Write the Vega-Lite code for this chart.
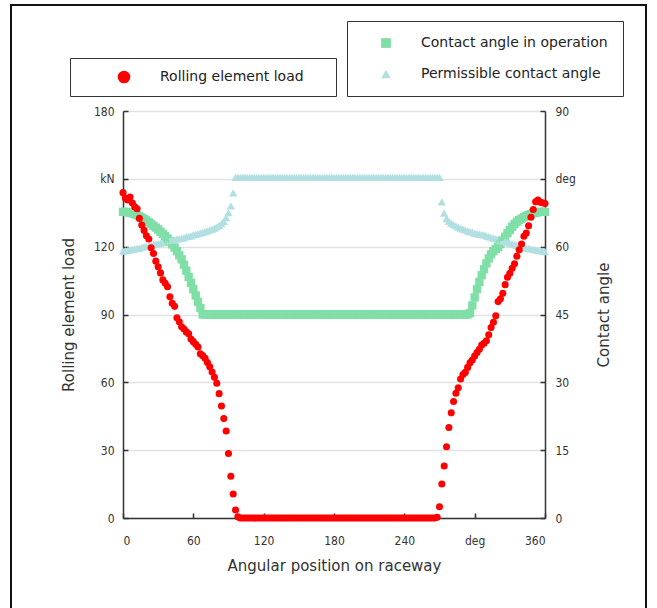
{
"$schema":"https://vega.github.io/schema/vega-lite/v6.json",
"width":635,"height":610,
"autosize":{"type":"none"},
"padding":{"left":11,"top":5,"right":11,"bottom":-7},
"config":{
 "view":{"stroke":"#111","strokeWidth":2},
 "font":"DejaVu Sans",
 "axis":{"labelFont":"DejaVu Sans Condensed, DejaVu Sans","labelFontSize":12,"labelColor":"#333","titleFont":"DejaVu Sans","titleFontSize":15,"titleColor":"#333","titleFontWeight":"normal","domainColor":"#333","domainWidth":1.5,"tickColor":"#333","tickWidth":1.5,"tickSize":-5},
 "legend":{"labelFont":"DejaVu Sans","labelFontSize":14,"labelColor":"#222","labelLimit":400}
},
"data":{"values":[
{"a":0,"L":143.9,"op":67.7,"perm":59.0},{"a":2,"L":141.5,"op":67.7,"perm":59.1},{"a":4,"L":140.6,"op":67.6,"perm":59.2},{"a":6,"L":142.0,"op":67.5,"perm":59.3},{"a":8,"L":139.3,"op":67.4,"perm":59.4},{"a":10,"L":137.6,"op":67.2,"perm":59.5},{"a":12,"L":136.8,"op":67.0,"perm":59.6},{"a":14,"L":132.5,"op":66.7,"perm":59.7},{"a":16,"L":129.6,"op":66.4,"perm":59.9},{"a":18,"L":127.2,"op":66.1,"perm":60.0},
{"a":20,"L":124.8,"op":65.8,"perm":60.1},{"a":22,"L":123.4,"op":65.4,"perm":60.2},{"a":24,"L":119.5,"op":65.0,"perm":60.3},{"a":26,"L":117.0,"op":64.6,"perm":60.5},{"a":28,"L":113.6,"op":64.2,"perm":60.6},{"a":30,"L":111.1,"op":63.8,"perm":60.7},{"a":32,"L":108.4,"op":63.3,"perm":60.8},{"a":34,"L":105.3,"op":62.8,"perm":60.9},{"a":36,"L":103.8,"op":62.3,"perm":61.0},{"a":38,"L":102.3,"op":61.8,"perm":61.2},
{"a":40,"L":97.8,"op":61.2,"perm":61.3},{"a":42,"L":95.0,"op":60.5,"perm":61.4},{"a":44,"L":93.6,"op":59.8,"perm":61.5},{"a":46,"L":88.6,"op":59.0,"perm":61.7},{"a":48,"L":86.8,"op":58.1,"perm":61.8},{"a":50,"L":84.6,"op":57.2,"perm":61.9},{"a":52,"L":83.6,"op":56.0,"perm":62.0},{"a":54,"L":82.3,"op":54.7,"perm":62.2},{"a":56,"L":81.5,"op":53.3,"perm":62.3},{"a":58,"L":79.2,"op":52.0,"perm":62.4},
{"a":60,"L":78.0,"op":50.6,"perm":62.6},{"a":62,"L":76.8,"op":49.2,"perm":62.7},{"a":64,"L":75.6,"op":47.8,"perm":62.9},{"a":66,"L":72.6,"op":46.4,"perm":63.0},{"a":68,"L":71.8,"op":45.0,"perm":63.2},{"a":70,"L":70.6,"op":45,"perm":63.3},{"a":72,"L":68.8,"op":45,"perm":63.5},{"a":74,"L":66.9,"op":45,"perm":63.7},{"a":76,"L":64.6,"op":45,"perm":63.9},{"a":78,"L":62.2,"op":45,"perm":64.1},
{"a":80,"L":59.6,"op":45,"perm":64.4},{"a":82,"L":55.0,"op":45,"perm":64.7},{"a":84,"L":49.5,"op":45,"perm":65.1},{"a":86,"L":44.0,"op":45,"perm":65.6},{"a":88,"L":38.5,"op":45,"perm":66.4},{"a":90,"L":28.5,"op":45,"perm":67.5},{"a":92,"L":18.5,"op":45,"perm":69.0},{"a":94,"L":10.6,"op":45,"perm":71.9},{"a":96,"L":3.5,"op":45,"perm":75.3},{"a":98,"L":0.5,"op":45,"perm":75.3},
{"a":100,"L":0,"op":45,"perm":75.3},{"a":102,"L":0,"op":45,"perm":75.3},{"a":104,"L":0,"op":45,"perm":75.3},{"a":106,"L":0,"op":45,"perm":75.3},{"a":108,"L":0,"op":45,"perm":75.3},{"a":110,"L":0,"op":45,"perm":75.3},{"a":112,"L":0,"op":45,"perm":75.3},{"a":114,"L":0,"op":45,"perm":75.3},{"a":116,"L":0,"op":45,"perm":75.3},{"a":118,"L":0,"op":45,"perm":75.3},
{"a":120,"L":0,"op":45,"perm":75.3},{"a":122,"L":0,"op":45,"perm":75.3},{"a":124,"L":0,"op":45,"perm":75.3},{"a":126,"L":0,"op":45,"perm":75.3},{"a":128,"L":0,"op":45,"perm":75.3},{"a":130,"L":0,"op":45,"perm":75.3},{"a":132,"L":0,"op":45,"perm":75.3},{"a":134,"L":0,"op":45,"perm":75.3},{"a":136,"L":0,"op":45,"perm":75.3},{"a":138,"L":0,"op":45,"perm":75.3},
{"a":140,"L":0,"op":45,"perm":75.3},{"a":142,"L":0,"op":45,"perm":75.3},{"a":144,"L":0,"op":45,"perm":75.3},{"a":146,"L":0,"op":45,"perm":75.3},{"a":148,"L":0,"op":45,"perm":75.3},{"a":150,"L":0,"op":45,"perm":75.3},{"a":152,"L":0,"op":45,"perm":75.3},{"a":154,"L":0,"op":45,"perm":75.3},{"a":156,"L":0,"op":45,"perm":75.3},{"a":158,"L":0,"op":45,"perm":75.3},
{"a":160,"L":0,"op":45,"perm":75.3},{"a":162,"L":0,"op":45,"perm":75.3},{"a":164,"L":0,"op":45,"perm":75.3},{"a":166,"L":0,"op":45,"perm":75.3},{"a":168,"L":0,"op":45,"perm":75.3},{"a":170,"L":0,"op":45,"perm":75.3},{"a":172,"L":0,"op":45,"perm":75.3},{"a":174,"L":0,"op":45,"perm":75.3},{"a":176,"L":0,"op":45,"perm":75.3},{"a":178,"L":0,"op":45,"perm":75.3},
{"a":180,"L":0,"op":45,"perm":75.3},{"a":182,"L":0,"op":45,"perm":75.3},{"a":184,"L":0,"op":45,"perm":75.3},{"a":186,"L":0,"op":45,"perm":75.3},{"a":188,"L":0,"op":45,"perm":75.3},{"a":190,"L":0,"op":45,"perm":75.3},{"a":192,"L":0,"op":45,"perm":75.3},{"a":194,"L":0,"op":45,"perm":75.3},{"a":196,"L":0,"op":45,"perm":75.3},{"a":198,"L":0,"op":45,"perm":75.3},
{"a":200,"L":0,"op":45,"perm":75.3},{"a":202,"L":0,"op":45,"perm":75.3},{"a":204,"L":0,"op":45,"perm":75.3},{"a":206,"L":0,"op":45,"perm":75.3},{"a":208,"L":0,"op":45,"perm":75.3},{"a":210,"L":0,"op":45,"perm":75.3},{"a":212,"L":0,"op":45,"perm":75.3},{"a":214,"L":0,"op":45,"perm":75.3},{"a":216,"L":0,"op":45,"perm":75.3},{"a":218,"L":0,"op":45,"perm":75.3},
{"a":220,"L":0,"op":45,"perm":75.3},{"a":222,"L":0,"op":45,"perm":75.3},{"a":224,"L":0,"op":45,"perm":75.3},{"a":226,"L":0,"op":45,"perm":75.3},{"a":228,"L":0,"op":45,"perm":75.3},{"a":230,"L":0,"op":45,"perm":75.3},{"a":232,"L":0,"op":45,"perm":75.3},{"a":234,"L":0,"op":45,"perm":75.3},{"a":236,"L":0,"op":45,"perm":75.3},{"a":238,"L":0,"op":45,"perm":75.3},
{"a":240,"L":0,"op":45,"perm":75.3},{"a":242,"L":0,"op":45,"perm":75.3},{"a":244,"L":0,"op":45,"perm":75.3},{"a":246,"L":0,"op":45,"perm":75.3},{"a":248,"L":0,"op":45,"perm":75.3},{"a":250,"L":0,"op":45,"perm":75.3},{"a":252,"L":0,"op":45,"perm":75.3},{"a":254,"L":0,"op":45,"perm":75.3},{"a":256,"L":0,"op":45,"perm":75.3},{"a":258,"L":0,"op":45,"perm":75.3},
{"a":260,"L":0,"op":45,"perm":75.3},{"a":262,"L":0,"op":45,"perm":75.3},{"a":264,"L":0,"op":45,"perm":75.3},{"a":266,"L":0,"op":45,"perm":75.3},{"a":268,"L":0.3,"op":45,"perm":75.3},{"a":270,"L":5.0,"op":45,"perm":75.3},{"a":272,"L":15.0,"op":45,"perm":69.9},{"a":274,"L":23.0,"op":45,"perm":67.4},{"a":276,"L":31.5,"op":45,"perm":66.2},{"a":278,"L":40.0,"op":45,"perm":65.6},
{"a":280,"L":46.5,"op":45,"perm":65.2},{"a":282,"L":51.5,"op":45,"perm":64.9},{"a":284,"L":55.2,"op":45,"perm":64.6},{"a":286,"L":57.6,"op":45,"perm":64.3},{"a":288,"L":61.5,"op":45,"perm":64.1},{"a":290,"L":63.5,"op":45,"perm":63.9},{"a":292,"L":64.4,"op":45,"perm":63.7},{"a":294,"L":66.6,"op":45,"perm":63.5},{"a":296,"L":68.7,"op":45.3,"perm":63.3},{"a":298,"L":69.9,"op":47.0,"perm":63.2},
{"a":300,"L":71.6,"op":48.8,"perm":63.0},{"a":302,"L":73.2,"op":50.6,"perm":62.9},{"a":304,"L":74.6,"op":52.2,"perm":62.8},{"a":306,"L":76.5,"op":53.7,"perm":62.7},{"a":308,"L":77.3,"op":55.0,"perm":62.6},{"a":310,"L":78.4,"op":56.3,"perm":62.4},{"a":312,"L":81.0,"op":57.4,"perm":62.3},{"a":314,"L":84.2,"op":58.3,"perm":62.1},{"a":316,"L":86.6,"op":59.0,"perm":61.9},{"a":318,"L":89.4,"op":59.5,"perm":61.8},
{"a":320,"L":95.7,"op":59.9,"perm":61.6},{"a":322,"L":97.0,"op":60.6,"perm":61.4},{"a":324,"L":99.4,"op":61.4,"perm":61.3},{"a":326,"L":103.2,"op":62.2,"perm":61.1},{"a":328,"L":106.5,"op":63.0,"perm":61.0},{"a":330,"L":108.2,"op":63.7,"perm":60.8},{"a":332,"L":110.4,"op":64.4,"perm":60.6},{"a":334,"L":112.4,"op":65.0,"perm":60.5},{"a":336,"L":115.8,"op":65.5,"perm":60.3},{"a":338,"L":118.6,"op":65.9,"perm":60.1},
{"a":340,"L":121.2,"op":66.2,"perm":60.0},{"a":342,"L":124.6,"op":66.5,"perm":59.8},{"a":344,"L":126.0,"op":66.8,"perm":59.7},{"a":346,"L":129.2,"op":67.0,"perm":59.6},{"a":348,"L":133.0,"op":67.2,"perm":59.5},{"a":350,"L":136.4,"op":67.4,"perm":59.4},{"a":352,"L":139.9,"op":67.5,"perm":59.3},{"a":354,"L":140.6,"op":67.6,"perm":59.2},{"a":356,"L":139.6,"op":67.7,"perm":59.1},{"a":358,"L":139.4,"op":67.7,"perm":59.0},
{"a":360,"L":139.1,"op":67.7,"perm":58.9}
]},
"layer":[
 {
  "transform":[{"fold":["op","perm"],"as":["s","v"]}],
  "mark":{"type":"point","filled":true,"opacity":1,"strokeWidth":0,"size":70},
  "encoding":{
   "x":{"field":"a","type":"quantitative","scale":{"domain":[0,360],"range":[112,534],"nice":false,"zero":false},
        "axis":{"orient":"bottom","offset":-97,"values":[0,60,120,180,240,300,360],"labelExpr":"datum.value == 300 ? 'deg' : datum.label","labelPadding":22,"title":"Angular position on raceway","titleX":323,"titleY":47,"titleAlign":"center","titleBaseline":"middle","grid":false}},
   "y":{"field":"v","type":"quantitative","scale":{"domain":[0,90],"range":[513,106],"nice":false,"zero":false},
        "axis":{"orient":"right","offset":-101,"values":[0,15,30,45,60,75,90],"labelExpr":"datum.value == 75 ? 'deg' : datum.label","labelPadding":15,"title":"Contact angle","titleAngle":270,"titleX":58,"titleY":309.5,"titleAlign":"center","titleBaseline":"middle","grid":false}},
   "color":{"field":"s","type":"nominal","scale":{"domain":["op","perm"],"range":["#7fdfa7","#b1dfe2"]},
        "legend":{"orient":"none","legendX":336,"legendY":16,"title":null,"strokeColor":"#333","padding":15,"symbolSize":95,"symbolOffset":17,"labelOffset":28,"rowPadding":17,"symbolStrokeWidth":0,"labelExpr":"datum.value == 'op' ? 'Contact angle in operation' : 'Permissible contact angle'"}},
   "shape":{"field":"s","type":"nominal","scale":{"domain":["op","perm"],"range":["square","triangle-up"]}}
  }
 },
 {
  "mark":{"type":"circle","size":50,"opacity":1},
  "encoding":{
   "x":{"field":"a","type":"quantitative","scale":{"domain":[0,360],"range":[112,534],"nice":false,"zero":false}},
   "y":{"field":"L","type":"quantitative","scale":{"domain":[0,180],"range":[513,106],"nice":false,"zero":false},
        "axis":{"orient":"left","offset":-112,"values":[0,30,60,90,120,150,180],"labelExpr":"datum.value == 150 ? 'kN' : datum.label","labelPadding":14,"title":"Rolling element load","titleAngle":270,"titleX":-55,"titleY":309.5,"titleAlign":"center","titleBaseline":"middle","grid":true,"gridColor":"#e2e2e2","gridWidth":1.5}},
   "color":{"datum":"Rolling element load","type":"nominal","scale":{"range":["#ff0000"]},
        "legend":{"orient":"none","legendX":59,"legendY":53,"title":"\u00a0","titleOrient":"right","titleFontSize":2,"titlePadding":20,"strokeColor":"#333","padding":12,"symbolSize":160,"symbolType":"circle","symbolOffset":35,"labelOffset":29,"symbolStrokeWidth":0}}
  }
 }
],
"resolve":{"scale":{"y":"independent","color":"independent","shape":"independent"}}
}
